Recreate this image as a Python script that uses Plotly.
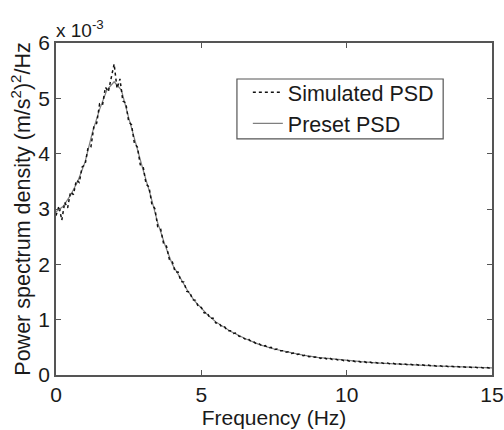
import plotly.graph_objects as go

# Frequency grid (Hz), 0.1 Hz sampling from 0 to 15
freq_sim = [round(i * 0.1, 1) for i in range(151)]

# Simulated PSD (x 1e-3 (m/s^2)^2/Hz)
psd_sim = [
    2.88, 3.05, 2.80, 3.12, 3.02, 3.31, 3.26, 3.52, 3.48, 3.76,
    3.80, 4.10, 4.12, 4.48, 4.55, 4.90, 4.88, 5.20, 5.12, 5.38,
    5.62, 5.18, 5.35, 4.95, 4.92, 4.58, 4.52, 4.18, 4.12, 3.80,
    3.76, 3.45, 3.40, 3.08, 3.01, 2.68, 2.64, 2.38, 2.33, 2.09,
    2.05, 1.86, 1.86, 1.69, 1.68, 1.51, 1.50, 1.36, 1.35, 1.23,
    1.22, 1.12, 1.13, 1.02, 1.03, 0.94, 0.94, 0.87, 0.87, 0.80,
    0.80, 0.75, 0.76, 0.70, 0.69, 0.65, 0.66, 0.61, 0.60, 0.56,
    0.56, 0.52, 0.53, 0.49, 0.50, 0.46, 0.47, 0.44, 0.44, 0.41,
    0.42, 0.39, 0.40, 0.37, 0.38, 0.35, 0.36, 0.33, 0.34, 0.32,
    0.33, 0.30, 0.32, 0.29, 0.31, 0.28, 0.29, 0.27, 0.28, 0.26,
    0.27, 0.25, 0.26, 0.24, 0.25, 0.23, 0.245, 0.22, 0.235, 0.215,
    0.225, 0.21, 0.22, 0.205, 0.215, 0.20, 0.21, 0.195, 0.205, 0.19,
    0.20, 0.185, 0.195, 0.18, 0.19, 0.175, 0.185, 0.17, 0.18, 0.165,
    0.17, 0.16, 0.17, 0.155, 0.165, 0.15, 0.16, 0.148, 0.155, 0.143,
    0.15, 0.14, 0.148, 0.136, 0.144, 0.132, 0.14, 0.128, 0.136, 0.125,
    0.13,
]

# Preset PSD (x 1e-3)
freq_preset = [0, 0.25, 0.5, 0.75, 1.0, 1.25, 1.5, 1.75, 2.0, 2.25, 2.5, 2.75,
               3.0, 3.25, 3.5, 3.75, 4.0, 4.25, 4.5, 4.75, 5.0, 5.25, 5.5, 5.75,
               6.0, 6.5, 7.0, 7.5, 8.0, 8.5, 9.0, 9.5, 10.0, 10.5, 11.0, 11.5,
               12.0, 12.5, 13.0, 13.5, 14.0, 14.5, 15.0]
psd_preset = [2.95, 3.05, 3.25, 3.5, 3.85, 4.38, 4.8, 5.15, 5.3, 5.15, 4.65, 4.15,
              3.7, 3.25, 2.75, 2.35, 2.0, 1.78, 1.55, 1.35, 1.2, 1.07, 0.96, 0.87,
              0.79, 0.66, 0.55, 0.47, 0.41, 0.36, 0.32, 0.29, 0.26, 0.24, 0.22, 0.21,
              0.195, 0.18, 0.165, 0.155, 0.145, 0.135, 0.13]

x_ticks = [0, 5, 10, 15]
y_ticks = [0, 1, 2, 3, 4, 5, 6]

FONT = "Liberation Sans, Arial, sans-serif"
TXT = "#1a1a1a"
AX = "#555555"

fig = go.Figure()
fig.add_trace(go.Scatter(
    x=freq_preset, y=psd_preset, mode="lines", name="Preset PSD",
    line=dict(color="#7f7f7f", width=1.2), legendrank=2,
))
fig.add_trace(go.Scatter(
    x=freq_sim, y=psd_sim, mode="lines", name="Simulated PSD",
    line=dict(color="#111111", width=1.5, dash="dot"), legendrank=1,
))

fig.update_layout(
    width=504, height=430,
    margin=dict(l=56, r=12, t=43, b=55, pad=0),
    paper_bgcolor="white", plot_bgcolor="white",
    font=dict(family=FONT, size=21, color=TXT),
    showlegend=True,
    legend=dict(
        x=0.440, y=0.913, xanchor="left", yanchor="top",
        bgcolor="rgba(0,0,0,0)", borderwidth=0,
        font=dict(size=21.5, color=TXT),
        tracegroupgap=0, itemwidth=30,
    ),
    xaxis=dict(
        range=[0, 15], tickvals=x_ticks, ticktext=[str(v) for v in x_ticks],
        showline=True, linecolor=AX, linewidth=1.5, mirror="ticks",
        ticks="inside", ticklen=5, tickcolor=AX, showgrid=False, zeroline=False,
        title=dict(text="Frequency (Hz)", standoff=2, font=dict(size=21)),
        tickfont=dict(size=21), automargin=False,
    ),
    yaxis=dict(
        range=[0, 6], tickvals=y_ticks, ticktext=[str(v) for v in y_ticks],
        showline=True, linecolor=AX, linewidth=1.5, mirror="ticks",
        ticks="inside", ticklen=5, tickcolor=AX, showgrid=False, zeroline=False,
        title=dict(text="Power spectrum density (m/s<sup>2</sup>)<sup>2</sup>/Hz",
                   standoff=2, font=dict(size=21.5)),
        tickfont=dict(size=21), automargin=False,
    ),
)

# legend frame (drawn as a shape for exact size)
fig.add_shape(
    type="rect", xref="paper", yref="paper",
    x0=0.415, x1=0.888, y0=0.711, y1=0.8916,
    line=dict(color=AX, width=1.2), fillcolor="white", layer="below",
)

fig.add_annotation(
    x=0, y=1.0, xref="paper", yref="paper", xanchor="left", yanchor="bottom",
    text="x 10<sup>-3</sup>", showarrow=False, font=dict(size=19, color=TXT),
    xshift=-2, yshift=0,
)

fig.write_html(
    "out.html",
    config={"displayModeBar": False},
    post_script="document.body.style.margin='0';document.body.style.overflow='hidden';",
)
